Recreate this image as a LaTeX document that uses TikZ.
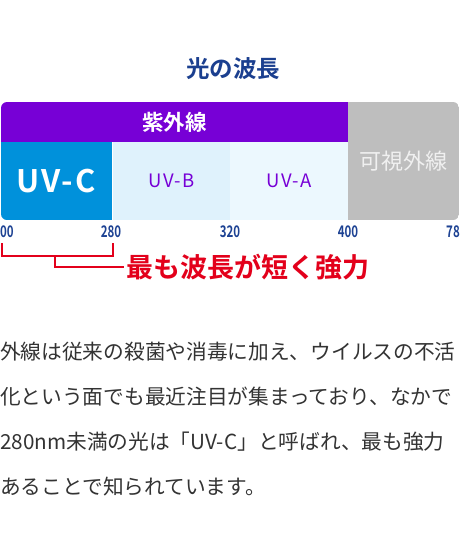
\documentclass[tikz,border=0pt]{standalone}
\usepackage{fontspec}
\setmainfont{Noto Sans CJK JP}[BoldFont={Noto Sans CJK JP Bold}]
\newfontfamily\ticknum{Noto Sans CJK JP Bold}[FakeStretch=0.72]
\usetikzlibrary{calc}
\definecolor{cTitle}{HTML}{1B3F8F}
\definecolor{cViolet}{HTML}{7700D6}
\definecolor{cUVC}{HTML}{0091DB}
\definecolor{cUVB}{HTML}{DFF2FC}
\definecolor{cUVA}{HTML}{ECF8FE}
\definecolor{cVis}{HTML}{BEBEBE}
\definecolor{cTick}{HTML}{1D4293}
\definecolor{cRed}{HTML}{E3001B}
\definecolor{cBody}{HTML}{333333}
\newcommand{\fs}[1]{\fontsize{#1}{#1}\selectfont}
\newcommand{\wide}{\addfontfeature{LetterSpace=7}}
\tikzset{
    x=1pt, y=-1pt,
    blk/.style={anchor=north west, inner sep=0pt, outer sep=0pt},
    title/.style={font=\fs{23.5}\bfseries, text=cTitle},
    tick/.style={font=\fs{16}\ticknum, text=cTick, inner sep=0pt},
    brack/.style={draw=cRed, line width=2.4pt},
    claim/.style={font=\fs{27}\bfseries, text=cRed, inner sep=2pt},
    body/.style={font=\fs{20.7}, text=cBody, inner sep=0pt, anchor=west},
}

\begin{document}
\begin{tikzpicture}
    \useasboundingbox[fill=white] (0,0) rectangle (460,552);

    \node[title] (ttl) at (233,69) {光の波長};

    % spectrum bar
    \begin{scope}
        \clip[rounded corners=6pt] (1,102) rectangle (459,220);
        \node[blk, fill=cViolet, minimum width=347pt, minimum height=40pt,
              font=\fs{21.5}\bfseries, text=white] (uv) at (1,102) {紫外線};
        \node[blk, fill=cUVC, minimum width=112pt, minimum height=78pt,
              font=\fs{31}\bfseries\wide, text=white] (uvc) at (0,142) {UV-C};
        \node[blk, fill=cUVB, minimum width=117pt, minimum height=78pt,
              font=\fs{18.5}\wide, text=cViolet] (uvb) at (113,142) {UV-B};
        \node[blk, fill=cUVA, minimum width=118pt, minimum height=78pt,
              font=\fs{18.5}\wide, text=cViolet] (uva) at (230,142) {UV-A};
        \node[blk, fill=cVis, minimum width=111pt, minimum height=118pt,
              font=\fs{22}, text=white!94!black] (vis) at (348,102) {可視外線};
    \end{scope}

    \node[tick, anchor=west] (t100) at (0,232) {00};
    \node[tick] (t280) at (111,232) {280};
    \node[tick] (t320) at (230,232) {320};
    \node[tick] (t400) at (348,232) {400};
    \node[tick, anchor=east] (t780) at (460,232) {78};

    \node[claim, anchor=west] (strong) at (124,267) {最も波長が短く強力};
    \coordinate (bL) at (2,243);
    \coordinate (bR) at (113,243);
    \coordinate (bS) at (55,256);
    \draw[brack] (bL) -- ++(0,13) -| (bR);
    \draw[brack] (bS) |- (strong.west);

    \node[body] (line1) at (0,352) {外線は従来の殺菌や消毒に加え、ウイルスの不活};
    \node[body] (line2) at (0,397) {化という面でも最近注目が集まっており、なかで};
    \node[body] (line3) at (0,442) {280nm未満の光は「UV-C」と呼ばれ、最も強力};
    \node[body] (line4) at (0,487) {あることで知られています。};
\end{tikzpicture}
\end{document}
